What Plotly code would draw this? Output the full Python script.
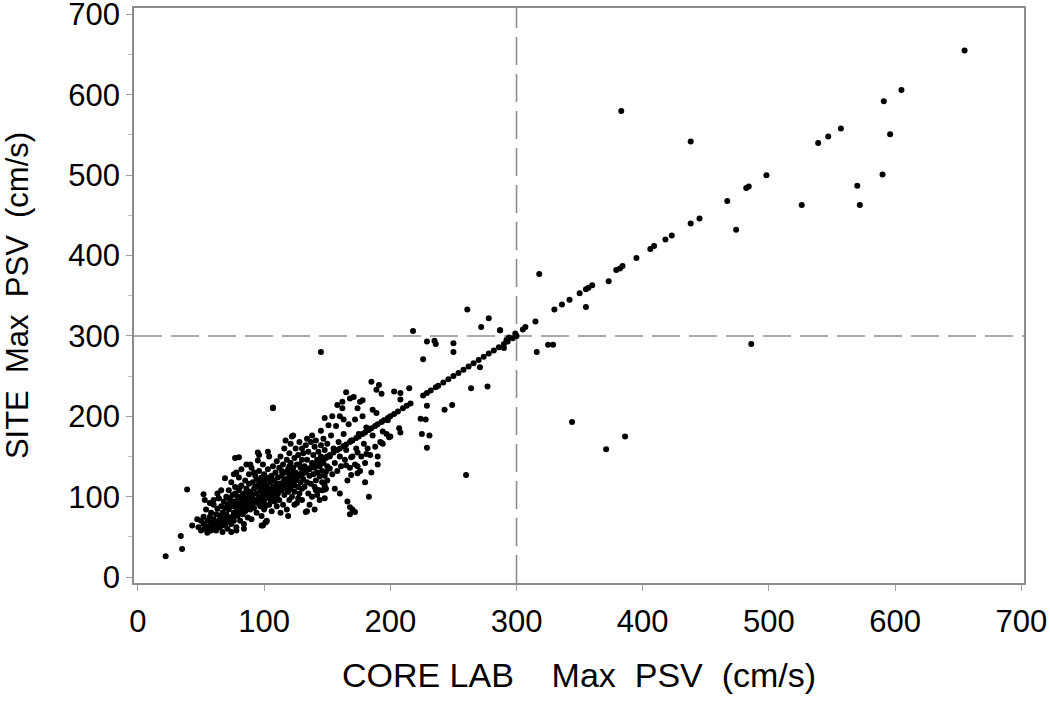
import plotly.graph_objects as go

# --- Data (core lab vs site max PSV, cm/s) ---
# points where site equals core lab (diagonal)
diag_core = [55, 58, 60, 62, 65, 67, 70, 72, 75, 78, 80, 83, 85, 88, 90, 93, 95, 98, 100, 103,
             105, 108, 110, 112, 115, 118, 120, 123, 125, 128, 130, 133, 135, 138, 140, 143, 145,
             148, 150, 152, 155, 158, 160, 163, 165, 168, 170, 173, 175, 178, 180, 183, 185, 188,
             190, 193, 195, 198, 200, 203, 206, 210, 213, 216, 226, 229, 232, 236, 238, 242, 246,
             250, 254, 258, 262, 266, 270, 274, 278, 282, 286, 290, 293, 297, 300]
diag_site = list(diag_core)

# dense cluster, low range
cl_core = [48, 50, 52, 53, 55, 55, 56, 57, 58, 58, 59, 60, 60, 61, 62, 62, 63, 64, 64, 65, 65, 66,
           66, 67, 67, 68, 68, 69, 69, 70, 70, 70, 52, 54, 57, 60, 63, 66, 50, 47,
           71, 71, 72, 72, 73, 73, 74, 74, 75, 75, 76, 76, 77, 77, 78, 78, 79, 79, 80, 80, 80, 81,
           81, 82, 82, 83, 83, 84, 84, 85, 85, 85, 86, 86, 87, 87, 88, 88, 88, 89, 89, 90, 90, 90,
           76, 82, 86, 74, 78, 84, 80, 72, 75, 79, 83, 87, 86, 77, 81, 84, 89,
           91, 91, 92, 92, 93, 93, 94, 94, 95, 95, 95, 96, 96, 97, 97, 97, 98, 98, 98, 99, 99, 100,
           100, 100, 100, 101, 101, 102, 102, 102, 103, 103, 104, 104, 104, 105, 105, 106, 106, 106,
           107, 107, 107, 108, 108, 108, 109, 109, 110, 110, 110, 110, 92, 94, 96, 98, 100, 102, 104,
           106, 108, 93, 97, 101, 105, 109, 98, 101, 96, 103]
cl_site = [62, 58, 66, 60, 70, 63, 57, 75, 68, 80, 62, 72, 90, 66, 78, 58, 85, 70, 98, 62, 76, 88,
           68, 80, 56, 94, 73, 64, 86, 100, 78, 68, 75, 84, 92, 96, 104, 108, 70, 72,
           90, 60, 84, 108, 74, 96, 66, 118, 88, 102, 80, 70, 94, 112, 86, 62, 100, 76, 92, 124, 108, 70,
           84, 98, 114, 78, 90, 104, 66, 120, 94, 82, 110, 100, 74, 88, 128, 96, 116, 84, 106, 92, 72, 136,
           128, 134, 140, 56, 58, 60, 100, 98, 94, 90, 102, 104, 92, 104, 112, 96, 98,
           102, 118, 86, 110, 96, 126, 80, 104, 114, 92, 145, 100, 132, 88, 108, 120, 76, 96, 112, 104, 140, 92,
           118, 128, 84, 108, 98, 122, 70, 114, 102, 134, 90, 110, 150, 118, 96, 126, 106, 82,
           210, 112, 138, 100, 120, 94, 130, 108, 116, 144, 88, 100, 130, 122, 116, 124, 106, 100, 124,
           98, 106, 112, 96, 88, 104, 96, 64, 68, 152, 156]

# dense cluster, middle range
cm_core = [111, 111, 112, 112, 113, 113, 114, 114, 115, 115, 115, 116, 116, 117, 117, 118, 118, 118,
           119, 119, 120, 120, 120, 120, 121, 121, 122, 122, 122, 123, 123, 124, 124, 125, 125, 125,
           126, 126, 127, 127, 128, 128, 128, 129, 129, 130, 130, 130, 112, 114, 116, 118, 120, 122,
           124, 126, 128, 130, 113, 119, 124, 127, 130, 117, 121,
           131, 131, 132, 132, 133, 133, 134, 134, 135, 135, 136, 136, 137, 137, 138, 138, 139, 139,
           140, 140, 140, 141, 141, 142, 142, 143, 143, 144, 144, 145, 145, 145, 146, 146, 147, 147,
           148, 148, 149, 149, 150, 150, 150, 136, 140, 144, 134, 138, 142, 146, 148]
cm_site = [124, 104, 136, 96, 114, 150, 108, 126, 140, 90, 118, 102, 160, 130, 112, 122, 146, 84,
           106, 134, 116, 154, 128, 96, 110, 142, 124, 175, 100, 136, 116, 148, 106, 130, 160, 120,
           92, 140, 112, 152, 126, 168, 104, 136, 118, 146, 110, 160, 116, 132, 120, 110, 138, 130,
           114, 124, 140, 128, 80, 76, 90, 98, 96, 170, 166,
           122, 154, 138, 112, 164, 130, 118, 146, 104, 156, 134, 126, 168, 116, 142, 100, 152, 128,
           162, 136, 112, 120, 170, 146, 130, 156, 108, 138, 125, 280, 164, 150, 118, 132, 172, 142,
           126, 158, 131, 148, 166, 138, 120, 90, 84, 96, 172, 176, 102, 108, 114]

# upper range of the cluster and scattered points
cu_core = [152, 152, 153, 154, 155, 156, 157, 158, 159, 160, 160, 161, 162, 162, 163, 164, 165, 165,
           166, 167, 168, 168, 169, 170, 170, 171, 172, 172, 173, 174, 175, 176, 176, 177, 178, 178,
           179, 180, 181, 182, 183, 184, 185, 186, 186, 188, 189, 189, 190, 191, 192, 193, 194, 194,
           197, 200, 203, 207, 208, 208, 208, 215, 154, 158, 163, 168, 174, 180, 185, 190, 156, 160,
           166, 198, 199, 193, 181, 174, 169, 165, 174, 169, 148, 148, 143, 134, 133, 148, 145, 151,
           149, 141, 123]
cu_site = [150, 135, 176, 128, 160, 142, 188, 132, 168, 150, 200, 138, 210, 218, 178, 146, 230, 158,
           120, 190, 136, 78, 170, 84, 150, 224, 196, 140, 160, 210, 178, 132, 218, 150, 200, 220,
           166, 142, 186, 160, 100, 152, 243, 176, 208, 162, 204, 233, 150, 239, 168, 228, 181, 166,
           178, 175, 231, 185, 180, 229, 221, 235, 200, 214, 196, 222, 138, 118, 130, 140, 110, 104,
           94, 195, 174, 167, 153, 155, 149, 139, 129, 127, 98, 109, 108, 82, 81, 198, 182, 189,
           110, 108, 176]

# points above 200 cm/s off the diagonal and outliers
out_core = [218, 229, 235, 236, 250, 250, 226, 229, 243, 249, 224, 228, 225, 231, 229, 261, 278,
            272, 287, 271, 264, 277, 260, 107, 22, 35, 34, 43, 39, 52, 53, 64, 69, 78, 77, 80, 89,
            95, 99, 102, 168, 172, 287, 290, 292, 294, 299, 305, 307, 315, 318, 316, 325, 329, 330,
            336, 342, 344, 350, 355, 355, 357, 360, 371, 373, 379, 382, 384, 383, 386, 395, 406, 409,
            418, 423, 438, 438, 445, 467, 474, 482, 484, 486, 498, 526, 539, 547, 557, 570, 572, 590,
            591, 596, 605, 655]
out_site = [306, 293, 294, 290, 291, 280, 271, 213, 208, 214, 197, 196, 178, 176, 161, 333, 322,
            311, 307, 261, 235, 237, 127, 211, 26, 35, 51, 64, 109, 103, 96, 98, 123, 130, 148, 149, 140,
            155, 64, 69, 87, 81, 307, 285, 295, 298, 303, 308, 311, 318, 377, 280, 289, 289, 333,
            339, 345, 193, 353, 358, 336, 360, 363, 159, 368, 382, 384, 387, 580, 175, 397, 408, 412,
            420, 425, 440, 542, 446, 468, 432, 484, 486, 290, 500, 463, 540, 548, 558, 487, 463, 501,
            592, 551, 606, 655]

x_ticks = [0, 100, 200, 300, 400, 500, 600, 700]
y_ticks = [0, 100, 200, 300, 400, 500, 600, 700]
ref_value = 300

core = diag_core + cl_core + cm_core + cu_core + out_core
site = diag_site + cl_site + cm_site + cu_site + out_site

fig = go.Figure()
fig.add_trace(go.Scatter(
    x=core, y=site, mode="markers",
    marker=dict(color="black", size=6, line=dict(width=0)),
    showlegend=False, hoverinfo="x+y", cliponaxis=False))

dash_style = dict(color="#8e8e8e", width=1.6, dash="28px,9px")
fig.add_shape(type="line", xref="x", yref="paper", x0=ref_value, x1=ref_value, y0=0, y1=1,
              line=dash_style, layer="below")
fig.add_shape(type="line", xref="paper", yref="y", x0=0, x1=1, y0=ref_value, y1=ref_value,
              line=dash_style, layer="below")

font_family = "Liberation Sans, Arial, sans-serif"
axis_common = dict(
    showgrid=False, zeroline=False, automargin=False, ticklabeloverflow="allow",
    showline=True, linecolor="#8c8c8c", linewidth=1.5, mirror=True,
    ticks="outside", ticklen=6, tickwidth=1.2, tickcolor="#a0a0a0",
    tickfont=dict(family=font_family, size=31, color="black"),
)

fig.update_layout(
    width=1050, height=704,
    margin=dict(l=134, r=26, t=8, b=121),
    paper_bgcolor="white", plot_bgcolor="white",
    font=dict(family=font_family, color="black"),
    xaxis=dict(**axis_common, range=[-3.1, 702.1], tickvals=x_ticks, ticklabelstandoff=4,
               title=dict(text="CORE LAB\u00a0\u00a0\u00a0 Max\u00a0 PSV\u00a0 (cm/s)",
                          font=dict(family=font_family, size=34, color="black"), standoff=25)),
    yaxis=dict(**axis_common, range=[-7.4, 708], tickvals=y_ticks, ticklabelstandoff=0,
               minor=dict(tickvals=[50, 150, 250, 350, 450, 550, 650], ticks="outside",
                          ticklen=4, tickcolor="#c0c0c0", tickwidth=1),
               title=dict(text="SITE\u00a0 Max\u00a0 PSV\u00a0 (cm/s)",
                          font=dict(family=font_family, size=31, color="black"), standoff=30)),
)

fig.write_html("out.html", config={"displayModeBar": False},
               post_script="document.body.style.margin='0px';")
